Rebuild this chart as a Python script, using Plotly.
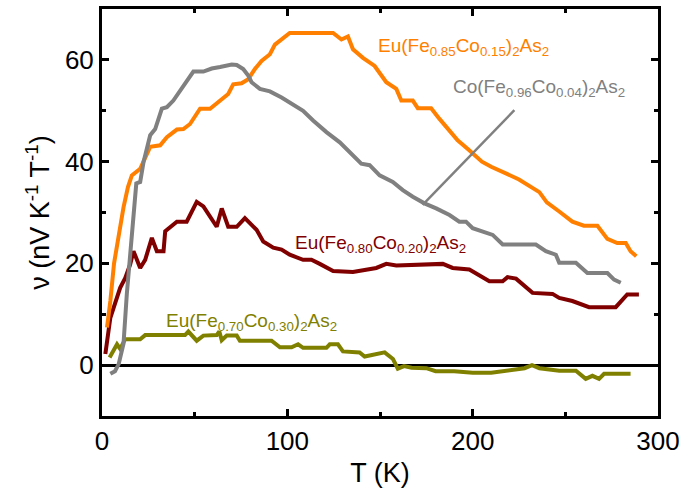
import plotly.graph_objects as go

# ---------------- data ----------------
T_085 = [2.7, 4.5, 6.5, 9, 11.6, 14, 16.1, 20.6, 26, 31.4, 35, 40.4, 43.9, 47.5, 52.9, 58.3, 63.7,
         68.1, 70.8, 75.3, 78.9, 82.5, 86.1, 90.6, 93.3, 96.9, 101.3, 124.7, 129.2, 132.7, 135.4,
         140.8, 147.1, 153.4, 158.8, 161.5, 167.7, 170.4, 177.6, 182.1, 191.9, 198, 205, 210, 218.8,
         225, 236, 240, 246.7, 253.8, 260, 267.3, 272.7, 278, 282.6, 285.2, 288.3]
V_085 = [7.4, 12.6, 20, 25.7, 31, 35, 37.3, 38.6, 42.9, 43.2, 44.8, 46.3, 46.4, 47.4, 50.4, 50.4, 52,
         53.3, 55.2, 55.4, 56.2, 58.2, 59.8, 61.1, 63, 64, 65.3, 65.3, 64, 64.6, 62.1,
         60.4, 58.8, 55.6, 54.3, 52, 52, 50.5, 50.5, 48.4, 44.2, 42.3, 40, 39, 37.5,
         36.5, 34, 32, 30.2, 28.2, 27.4, 27.4, 24.8, 24, 24, 22.4, 21.4]

T_004 = [4.5, 7, 9, 11.6, 13.4, 15.2, 16.1, 18.5, 20.6, 22.4, 26, 28.7, 32.3, 35, 38.5, 42.1, 44.8,
         49.3, 54.7, 59.2, 63.7, 70, 72.7, 76.2, 78.9, 80.7, 85.2, 90.6, 96.9, 102.3, 108.5, 113.9,
         121.1, 128.3, 133.6, 139.9, 144.4, 149.8, 156.9, 162.3, 167.7, 174, 180.3, 187.5, 192.8,
         196.4, 200, 210.8, 216.2, 234.1, 239.5, 244.9, 246.7, 255.7, 261.9, 272.7, 276.3, 279.9]
V_004 = [-1.7, -1.2, 0.2, 4.2, 14, 22.4, 26.9, 35.7, 36, 39.9, 45.2, 46.4, 50.4, 50.7, 52, 53.9, 55.2,
         57.7, 57.7, 58.3, 58.6, 59.1, 59, 58.2, 56.9, 55.6, 54.3, 53.8, 52.6, 51.3, 50, 48.1,
         45.8, 43.8, 41.9, 39.6, 39.3, 37.3, 36, 34.4, 33.1, 31.8, 30.8, 29.5, 28.2,
         28.2, 26.9, 25.6, 23.7, 23.7, 22.4, 21.7, 20.1, 20.1, 18.1, 18.1, 16.8, 16.2]

T_020 = [1.8, 4.5, 9.8, 12.5, 15.2, 17, 20.6, 23.3, 26.9, 29.6, 33.2, 34.1, 40.4, 45.7, 51.1, 54.7,
         61.9, 64.6, 68.1, 72.7, 77.1, 83.4, 87, 92.4, 96.9, 101.3, 108.5, 113, 117.5, 124.7,
         135.4, 142.6, 148, 153.4, 158.8, 183.9, 189.2, 198.2, 209, 216.2, 218.8, 223.4, 232.3,
         243.1, 246.7, 253.8, 262.8, 277.2, 283.4, 289.7]
V_020 = [2.2, 9.3, 15.2, 17.1, 19.8, 22.4, 19.1, 20.7, 25, 22.4, 22.4, 26.3, 28.2, 28.2, 32.1, 31.2,
         27.2, 30.8, 27.2, 27.2, 28.9, 26.6, 24.3, 23.1, 22.7, 21.7, 20.7, 20.7, 19.9, 18.5,
         18.3, 18.8, 19.1, 19.9, 19.6, 19.9, 19.1, 18.8, 16.5, 16.5, 17.3, 17, 14.2,
         14, 13.2, 12.6, 11.4, 11.4, 13.9, 13.9]

T_030 = [4.1, 8.1, 9.8, 12.5, 20.6, 23.3, 44.8, 46.6, 51.1, 54.7, 61.9, 63.3, 64.6, 67.3, 72.7, 74.4,
         91.5, 96, 102.3, 105.8, 108.5, 121.1, 122.9, 127.3, 130, 139, 141.7, 148, 152.5, 157,
         159.6, 163, 167, 175, 180, 190, 200, 210, 220, 228, 232, 236, 246.7, 255.7, 261, 264.6,
         268.2, 270.9, 285.2]
V_030 = [1.5, 4.1, 3.2, 5.1, 5.1, 5.9, 5.9, 6.6, 4.8, 5.8, 5.9, 6.6, 4.9, 5.8, 5.8, 4.8,
         4.8, 3.5, 3.5, 4.1, 3.4, 3.4, 4.1, 4.1, 2.7, 2.5, 1.7, 2.1, 2.5, 1.2,
         -0.7, -0.2, -0.5, -0.6, -1.2, -1.2, -1.5, -1.5, -1.0, -0.6, 0, -0.6, -1.1, -1.1, -2.7, -2.1,
         -2.7, -1.7, -1.7]

labels = {
    "085": "Eu(Fe<sub>0.85</sub>Co<sub>0.15</sub>)<sub>2</sub>As<sub>2</sub>",
    "004": "Co(Fe<sub>0.96</sub>Co<sub>0.04</sub>)<sub>2</sub>As<sub>2</sub>",
    "020": "Eu(Fe<sub>0.80</sub>Co<sub>0.20</sub>)<sub>2</sub>As<sub>2</sub>",
    "030": "Eu(Fe<sub>0.70</sub>Co<sub>0.30</sub>)<sub>2</sub>As<sub>2</sub>",
}
label_pos = {"085": (147.6, 62.6), "004": (188.4, 54.4), "020": (103.1, 23.8), "030": (33.2, 8.5)}
leader_T = [173, 222.5]
leader_V = [31.5, 50.1]

x_ticks = [0, 100, 200, 300]
y_ticks = [0, 20, 40, 60]

colors = {"085": "#FF8000", "004": "#808080", "020": "#800000", "030": "#808000"}
FONT = "Liberation Sans, Arial, sans-serif"

fig = go.Figure()
series = [("030", T_030, V_030), ("020", T_020, V_020), ("085", T_085, V_085), ("004", T_004, V_004)]
for key, t, v in series:
    fig.add_trace(go.Scatter(x=t, y=v, mode="lines", line=dict(color=colors[key], width=4),
                             showlegend=False, hoverinfo="skip"))

fig.add_trace(go.Scatter(x=leader_T, y=leader_V, mode="lines",
                         line=dict(color="#808080", width=2.5), showlegend=False, hoverinfo="skip"))

for key, (tx, ty) in label_pos.items():
    fig.add_annotation(x=tx, y=ty, xref="x", yref="y", text=labels[key], showarrow=False,
                       xanchor="left", yanchor="middle",
                       font=dict(family=FONT, size=19, color=colors[key]))

axis_common = dict(showline=True, linecolor="black", linewidth=3, mirror="ticks",
                   ticks="inside", ticklen=7, tickwidth=2.5, tickcolor="black",
                   showgrid=False, tickfont=dict(family=FONT, size=26, color="black"))

fig.update_xaxes(range=[0, 300], tickvals=x_ticks, zeroline=False,
                 minor=dict(dtick=50, ticks="inside", ticklen=4, tickwidth=2.5, tickcolor="black",
                            showgrid=False),
                 title=dict(text="T (K)", font=dict(family=FONT, size=27, color="black"), standoff=8),
                 **axis_common)
fig.update_yaxes(range=[-10, 70], tickvals=y_ticks, zeroline=True, zerolinecolor="black",
                 zerolinewidth=2.5,
                 minor=dict(dtick=10, ticks="inside", ticklen=4, tickwidth=2.5, tickcolor="black",
                            showgrid=False),
                 title=dict(text="ν (nV K<sup>-1</sup> T<sup>-1</sup>)",
                            font=dict(family=FONT, size=27, color="black"), standoff=8),
                 **axis_common)

fig.update_layout(width=686, height=501, margin=dict(l=102, r=27, t=6, b=85),
                  plot_bgcolor="white", paper_bgcolor="white", font=dict(family=FONT))

fig.write_html("out.html")
